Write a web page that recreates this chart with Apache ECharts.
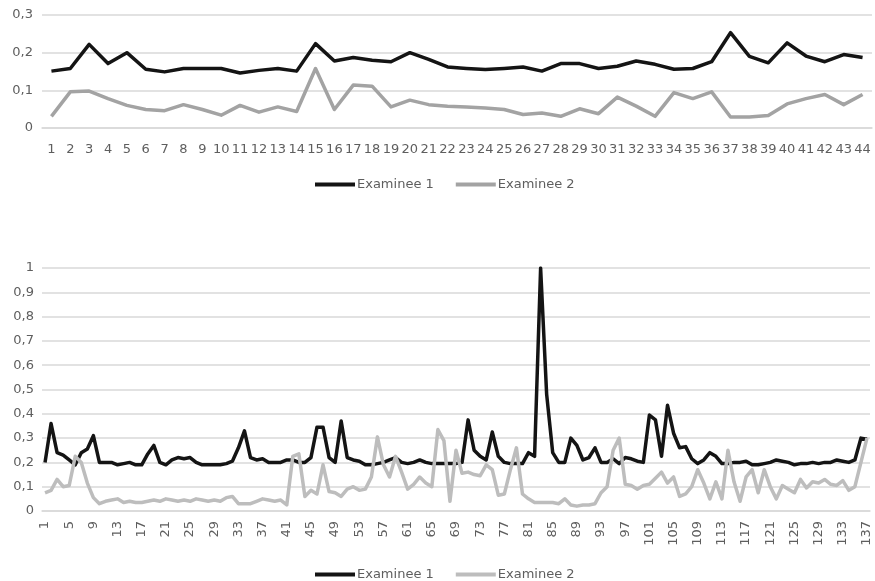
<!DOCTYPE html>
<html>
<head>
<meta charset="utf-8">
<script src="https://cdn.jsdelivr.net/npm/echarts@6/dist/echarts.min.js"></script>
<style>
  html, body { margin: 0; padding: 0; background: #fff; overflow: hidden; }
  #top { position: absolute; left: 0; top: 0; width: 875px; height: 210px; }
  #bottom { position: absolute; left: 0; top: 210px; width: 875px; height: 371px; }
</style>
</head>
<body>
<div id="top"></div>
<div id="bottom"></div>
<script>
// Upper panel: 44 items
const topCategories = Array.from({ length: 44 }, (_, i) => String(i + 1));
const topExaminee1 = [
  0.151, 0.158, 0.222, 0.171, 0.200, 0.156, 0.149, 0.158, 0.158, 0.158,
  0.146, 0.153, 0.158, 0.151, 0.224, 0.178, 0.187, 0.180, 0.176, 0.200,
  0.182, 0.162, 0.158, 0.155, 0.158, 0.162, 0.151, 0.171, 0.171, 0.158,
  0.164, 0.178, 0.169, 0.156, 0.158, 0.176, 0.253, 0.190, 0.173, 0.226,
  0.191, 0.176, 0.195, 0.187
];
const topExaminee2 = [
  0.031, 0.096, 0.098, 0.078, 0.060, 0.049, 0.046, 0.062, 0.049, 0.034,
  0.060, 0.042, 0.056, 0.044, 0.158, 0.049, 0.114, 0.111, 0.056, 0.074,
  0.062, 0.058, 0.056, 0.053, 0.049, 0.036, 0.040, 0.031, 0.051, 0.038,
  0.082, 0.058, 0.031, 0.094, 0.078, 0.096, 0.029, 0.029, 0.033, 0.064,
  0.078, 0.089, 0.062, 0.089
];

// Lower panel: 137 items, every fourth one labelled
const bottomCategories = Array.from({ length: 137 }, (_, i) => String(i + 1));
const bottomLabelStep = 4;
const bottomExaminee1 = [
  0.20, 0.36, 0.24, 0.23, 0.21, 0.19, 0.24, 0.255, 0.31, 0.20,
  0.20, 0.20, 0.19, 0.195, 0.20, 0.19, 0.19, 0.235, 0.27, 0.20,
  0.19, 0.21, 0.22, 0.215, 0.22, 0.20, 0.19, 0.19, 0.19, 0.19,
  0.195, 0.205, 0.26, 0.33, 0.22, 0.21, 0.215, 0.20, 0.20, 0.20,
  0.21, 0.21, 0.20, 0.20, 0.22, 0.345, 0.345, 0.22, 0.20, 0.37,
  0.22, 0.21, 0.205, 0.19, 0.19, 0.195, 0.20, 0.21, 0.22, 0.20,
  0.195, 0.20, 0.21, 0.20, 0.195, 0.195, 0.195, 0.195, 0.195, 0.20,
  0.375, 0.25, 0.225, 0.21, 0.325, 0.225, 0.20, 0.195, 0.195, 0.195,
  0.24, 0.225, 1.00, 0.48, 0.24, 0.20, 0.20, 0.30, 0.27, 0.21,
  0.22, 0.26, 0.20, 0.20, 0.215, 0.195, 0.22, 0.215, 0.205, 0.20,
  0.395, 0.375, 0.225, 0.435, 0.32, 0.26, 0.265, 0.215, 0.195, 0.21,
  0.24, 0.225, 0.195, 0.195, 0.20, 0.20, 0.205, 0.19, 0.19, 0.195,
  0.20, 0.21, 0.205, 0.20, 0.19, 0.195, 0.195, 0.20, 0.195, 0.20,
  0.20, 0.21, 0.205, 0.20, 0.21, 0.30, 0.295
];
const bottomExaminee2 = [
  0.075, 0.085, 0.13, 0.10, 0.105, 0.225, 0.20, 0.115, 0.055, 0.03,
  0.04, 0.045, 0.05, 0.035, 0.04, 0.035, 0.035, 0.04, 0.045, 0.04,
  0.05, 0.045, 0.04, 0.045, 0.04, 0.05, 0.045, 0.04, 0.045, 0.04,
  0.055, 0.06, 0.03, 0.03, 0.03, 0.04, 0.05, 0.045, 0.04, 0.045,
  0.025, 0.225, 0.235, 0.06, 0.085, 0.07, 0.19, 0.08, 0.075, 0.06,
  0.09, 0.10, 0.085, 0.09, 0.14, 0.305, 0.19, 0.14, 0.225, 0.16,
  0.09, 0.11, 0.14, 0.115, 0.10, 0.335, 0.29, 0.04, 0.25, 0.155,
  0.16, 0.15, 0.145, 0.19, 0.17, 0.065, 0.07, 0.17, 0.26, 0.07,
  0.05, 0.035, 0.035, 0.035, 0.035, 0.03, 0.05, 0.025, 0.02, 0.025,
  0.025, 0.03, 0.075, 0.10, 0.25, 0.30, 0.11, 0.105, 0.09, 0.105,
  0.11, 0.135, 0.16, 0.115, 0.14, 0.06, 0.07, 0.10, 0.17, 0.115,
  0.05, 0.12, 0.05, 0.25, 0.12, 0.04, 0.14, 0.17, 0.075, 0.17,
  0.10, 0.05, 0.105, 0.09, 0.075, 0.13, 0.095, 0.12, 0.115, 0.13,
  0.11, 0.105, 0.125, 0.085, 0.10, 0.20, 0.30
];

const seriesNames = ['Examinee 1', 'Examinee 2'];
const FONT = 'DejaVu Sans';
const TEXT_COLOR = '#5e5e5e';
const GRID_COLOR = '#d9d9d9';

function decimalComma(v) {
  if (v === 0) return '0';
  if (Math.abs(v - 1) < 1e-9) return '1';
  return v.toFixed(1).replace('.', ',');
}

function buildOption(cfg) {
  return {
    animation: false,
    legend: {
      left: 310, top: cfg.legendTop, icon: 'rect', itemWidth: 40, itemHeight: 4, itemGap: 22,
      textStyle: { fontFamily: FONT, fontSize: 13, color: TEXT_COLOR, padding: [0, 0, 0, -3] },
      data: seriesNames
    },
    grid: cfg.grid,
    xAxis: {
      type: 'category', data: cfg.categories, boundaryGap: true,
      axisLine: { show: true, lineStyle: { color: GRID_COLOR, width: 1.5 } },
      axisTick: { show: false },
      axisLabel: cfg.xLabel
    },
    yAxis: {
      type: 'value', min: 0, max: cfg.yMax, interval: 0.1,
      axisLine: { show: false }, axisTick: { show: false },
      splitLine: { lineStyle: { color: GRID_COLOR, width: 1.5 } },
      axisLabel: { fontFamily: FONT, fontSize: 13, color: TEXT_COLOR, margin: cfg.yLabelMargin, formatter: decimalComma }
    },
    series: [
      { name: seriesNames[0], type: 'line', data: cfg.s1, symbol: 'none',
        lineStyle: { color: '#141414', width: 3.5, join: 'round' }, itemStyle: { color: '#141414' } },
      { name: seriesNames[1], type: 'line', data: cfg.s2, symbol: 'none',
        lineStyle: { color: cfg.grayColor, width: 3.5, join: 'round' }, itemStyle: { color: cfg.grayColor } }
    ]
  };
}

const topChart = echarts.init(document.getElementById('top'));
topChart.setOption(buildOption({
  categories: topCategories, s1: topExaminee1, s2: topExaminee2, yMax: 0.3,
  grid: { left: 42, width: 830, top: 15, height: 113 },
  xLabel: { interval: 0, margin: 15, fontFamily: FONT, fontSize: 13, color: TEXT_COLOR, hideOverlap: false },
  yLabelMargin: 9, legendTop: 173, grayColor: '#a3a3a3'
}));

const bottomChart = echarts.init(document.getElementById('bottom'));
bottomChart.setOption(buildOption({
  categories: bottomCategories, s1: bottomExaminee1, s2: bottomExaminee2, yMax: 1,
  grid: { left: 42, width: 828, top: 58, height: 243 },
  xLabel: { show: false },
  yLabelMargin: 8, legendTop: 353, grayColor: '#bdbdbd'
}));

// Vertical category labels, placed at the axis positions of their categories
const verticalLabels = [];
bottomCategories.forEach((cat, i) => {
  if (i % bottomLabelStep !== 0) return;
  const pt = bottomChart.convertToPixel({ gridIndex: 0 }, [i, 0]);
  verticalLabels.push({
    type: 'text',
    x: pt[0],
    y: pt[1] + 10,
    rotation: Math.PI / 2,
    silent: true,
    style: {
      text: cat,
      align: 'right',
      verticalAlign: 'middle',
      fill: TEXT_COLOR,
      fontSize: 13,
      fontFamily: FONT
    }
  });
});
bottomChart.setOption({ graphic: verticalLabels });
</script>
</body>
</html>
